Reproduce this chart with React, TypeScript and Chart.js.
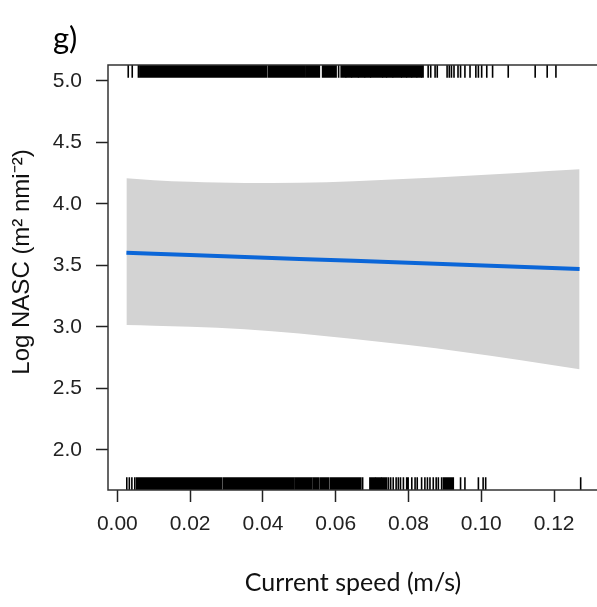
import { useEffect, useRef } from 'react';
import { Chart, registerables } from 'chart.js';

Chart.register(...registerables);

// ---- data ----
const speed = [0.0025, 0.01, 0.02, 0.035, 0.05, 0.065, 0.08, 0.095, 0.11, 0.127];
const fitLogNasc = [3.604, 3.596, 3.585, 3.569, 3.553, 3.538, 3.522, 3.506, 3.49, 3.472];
const upperCI = [4.209, 4.193, 4.18, 4.17, 4.172, 4.185, 4.205, 4.228, 4.252, 4.282];
const lowerCI = [3.016, 3.011, 3.002, 2.982, 2.948, 2.903, 2.853, 2.797, 2.733, 2.656];

const xTicks = [0, 0.02, 0.04, 0.06, 0.08, 0.1, 0.12];
const yTicks = [2.0, 2.5, 3.0, 3.5, 4.0, 4.5, 5.0];

const topRugTicks = [
  0.003, 0.0041, 0.0058, 0.0608, 0.0854, 0.0861, 0.0873, 0.0879, 0.0906, 0.0912, 0.0918,
  0.0925, 0.0936, 0.0943, 0.0955, 0.0969, 0.0985, 0.0992, 0.1001, 0.1015, 0.1031, 0.1074,
  0.1148, 0.1181, 0.1205,
];
const topRugSpans: [number, number][] = [
  [0.0062, 0.041], [0.0415, 0.0516], [0.052, 0.0555], [0.0564, 0.0601], [0.0615, 0.0627],
  [0.0629, 0.0643], [0.0645, 0.0661], [0.0663, 0.0679], [0.0681, 0.0695], [0.0697, 0.0728],
  [0.073, 0.0739], [0.0741, 0.0756], [0.0758, 0.078], [0.0782, 0.0794], [0.0796, 0.0808],
  [0.081, 0.0822], [0.0824, 0.0835], [0.0837, 0.084],
];
const bottomRugTicks = [
  0.0026, 0.0033, 0.004, 0.0048, 0.0674, 0.0745, 0.0751, 0.0758, 0.0766, 0.0772, 0.0778,
  0.0786, 0.0795, 0.0799, 0.0809, 0.0818, 0.0824, 0.0836, 0.0845, 0.0852, 0.0859, 0.0868,
  0.0876, 0.0882, 0.0891, 0.0943, 0.0955, 0.0992, 0.1005, 0.1012, 0.1273,
];
const bottomRugSpans: [number, number][] = [
  [0.0053, 0.0287], [0.0292, 0.0484], [0.0488, 0.0534], [0.0538, 0.0552], [0.0557, 0.058],
  [0.0585, 0.0669], [0.0694, 0.0707], [0.071, 0.0725], [0.0728, 0.074], [0.0896, 0.0923],
];

const panelLabel = 'g)';
const xTitle = 'Current speed (m/s)';
const yTitle = 'Log NASC (m\u00B2 nmi\u207B\u00B2)';

const tickFont = { family: '"Liberation Sans", Arial, sans-serif', size: 21 };

const extrasPlugin = {
  id: 'rugFrameText',
  afterDatasetsDraw(chart: any) {
    const { ctx, chartArea: a, scales } = chart;
    const x = scales.x;
    const len = (a.bottom - a.top) * 0.03;
    ctx.save();
    ctx.fillStyle = '#000';
    ctx.strokeStyle = '#000';
    ctx.lineWidth = 1.6;
    const drawRug = (ticks: number[], spans: [number, number][], y0: number, y1: number) => {
      for (const [s, e] of spans) {
        const p0 = x.getPixelForValue(s);
        const p1 = x.getPixelForValue(e);
        ctx.fillRect(p0 - 0.8, y0, p1 - p0 + 1.6, y1 - y0);
      }
      ctx.beginPath();
      for (const v of ticks) {
        const p = x.getPixelForValue(v);
        ctx.moveTo(p, y0);
        ctx.lineTo(p, y1);
      }
      ctx.stroke();
    };
    drawRug(topRugTicks, topRugSpans, a.top, a.top + len);
    drawRug(bottomRugTicks, bottomRugSpans, a.bottom - len, a.bottom);
    ctx.strokeStyle = '#333';
    ctx.lineWidth = 1.5;
    ctx.strokeRect(a.left, a.top, a.right - a.left, a.bottom - a.top);
    ctx.restore();
  },
  afterDraw(chart: any) {
    const { ctx } = chart;
    ctx.save();
    ctx.fillStyle = '#000';
    ctx.font = '31px Lato, "Open Sans", sans-serif';
    ctx.textAlign = 'left';
    ctx.textBaseline = 'alphabetic';
    ctx.fillText(panelLabel, 53, 49);

    ctx.translate(29, 262);
    ctx.rotate(-Math.PI / 2);
    ctx.font = '24px "Liberation Sans", Arial, sans-serif';
    ctx.fillStyle = '#111';
    ctx.textAlign = 'center';
    ctx.textBaseline = 'alphabetic';
    ctx.fillText(yTitle, 0, 0);
    ctx.restore();
  },
};

export default function App() {
  const canvasRef = useRef<HTMLCanvasElement | null>(null);

  useEffect(() => {
    if (!canvasRef.current) return;
    const pts = (ys: number[]) => speed.map((v, i) => ({ x: v, y: ys[i] }));
    const chart = new Chart(canvasRef.current, {
      type: 'line',
      data: {
        datasets: [
          {
            label: 'fit',
            data: pts(fitLogNasc),
            borderColor: '#0b66d8',
            borderWidth: 4,
            pointRadius: 0,
            fill: false,
            tension: 0,
          },
          {
            label: 'upper',
            data: pts(upperCI),
            borderColor: 'rgba(0,0,0,0)',
            borderWidth: 0,
            pointRadius: 0,
            fill: false,
            cubicInterpolationMode: 'monotone',
          },
          {
            label: 'lower',
            data: pts(lowerCI),
            borderColor: 'rgba(0,0,0,0)',
            borderWidth: 0,
            pointRadius: 0,
            backgroundColor: '#d3d3d3',
            fill: '-1',
            cubicInterpolationMode: 'monotone',
          },
        ],
      },
      options: {
        animation: false,
        responsive: false,
        events: [],
        layout: { padding: { top: 65, right: 3, left: 0, bottom: 0 } },
        plugins: {
          legend: { display: false },
          tooltip: { enabled: false },
          title: { display: false },
        },
        scales: {
          x: {
            type: 'linear',
            min: -0.00256,
            max: 0.13206,
            afterBuildTicks: (axis: any) => {
              axis.ticks = xTicks.map((v) => ({ value: v }));
            },
            afterFit: (axis: any) => {
              axis.height = 117;
            },
            ticks: {
              autoSkip: false,
              maxRotation: 0,
              padding: 10,
              color: '#222',
              font: tickFont,
              callback: (v: any) => Number(v).toFixed(2),
            },
            grid: {
              display: true,
              drawOnChartArea: false,
              drawTicks: true,
              tickLength: 12,
              tickWidth: 1.5,
              tickColor: '#222',
            },
            border: { display: false },
            title: {
              display: true,
              text: xTitle,
              color: '#111',
              font: { family: 'Lato, "Open Sans", sans-serif', size: 25 },
              padding: { top: 0, bottom: 9 },
            },
          },
          y: {
            type: 'linear',
            min: 1.6748,
            max: 5.13,
            afterBuildTicks: (axis: any) => {
              axis.ticks = yTicks.map((v) => ({ value: v }));
            },
            afterFit: (axis: any) => {
              axis.width = 108;
            },
            ticks: {
              autoSkip: false,
              padding: 14,
              color: '#222',
              font: tickFont,
              callback: (v: any) => Number(v).toFixed(1),
            },
            grid: {
              display: true,
              drawOnChartArea: false,
              drawTicks: true,
              tickLength: 12,
              tickWidth: 1.5,
              tickColor: '#222',
            },
            border: { display: false },
          },
        },
      },
      plugins: [extrasPlugin],
    });
    return () => chart.destroy();
  }, []);

  return (
    <div
      style={{
        position: 'fixed',
        left: 0,
        top: 0,
        width: 597,
        height: 607,
        overflow: 'hidden',
        background: '#fff',
      }}
    >
      <canvas ref={canvasRef} width={601} height={607} style={{ display: 'block' }} />
    </div>
  );
}
